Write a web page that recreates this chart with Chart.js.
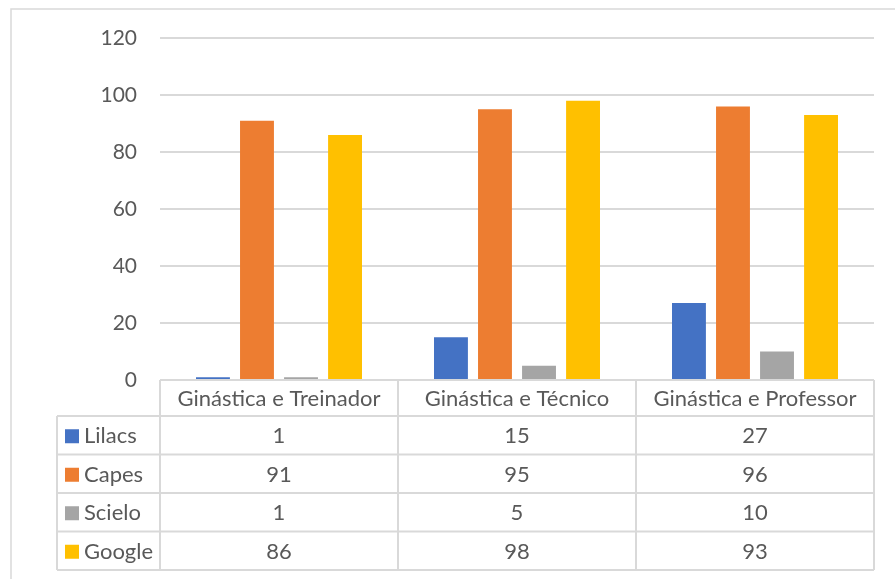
<!DOCTYPE html>
<html>
<head>
<meta charset="utf-8">
<script src="https://cdn.jsdelivr.net/npm/chart.js@4"></script>
<style>
html,body{margin:0;padding:0;background:#fff;}
#wrap{position:relative;width:895px;height:579px;}
</style>
</head>
<body>
<div id="wrap"><canvas id="c" width="895" height="579"></canvas></div>
<script>
const categories = ["Ginástica e Treinador", "Ginástica e Técnico", "Ginástica e Professor"];
const seriesNames = ["Lilacs", "Capes", "Scielo", "Google"];
const lilacs = [1, 15, 27];
const capes = [91, 95, 96];
const scielo = [1, 5, 10];
const google = [86, 98, 93];
const yTicks = [0, 20, 40, 60, 80, 100, 120];
const colors = ["#4472C4", "#ED7D31", "#A5A5A5", "#FFC000"];
const seriesValues = [lilacs, capes, scielo, google];

const FONT = "Lato";
const TXT = "#595959";
const LINE = "#d9d9d9";

const tablePlugin = {
  id: 'dataTable',
  afterDraw(chart) {
    const ctx = chart.ctx;
    const xs = chart.scales.x;
    const area = chart.chartArea;
    const n = categories.length;
    const half = (xs.getPixelForValue(1) - xs.getPixelForValue(0)) / 2;
    const colEdges = [];
    for (let i = 0; i < n; i++) colEdges.push(xs.getPixelForValue(i) - half);
    colEdges.push(xs.getPixelForValue(n - 1) + half);
    const top = area.bottom;
    const headerH = 36;
    const rowH = 38.5;
    const legendLeft = 57;
    const rowsTop = top + headerH;
    const bottom = rowsTop + rowH * seriesNames.length;

    ctx.save();
    ctx.strokeStyle = LINE;
    ctx.lineWidth = 1.5;
    ctx.beginPath();
    ctx.moveTo(11, 579); ctx.lineTo(11, 9); ctx.lineTo(895, 9);
    ctx.stroke();

    ctx.lineWidth = 2;
    ctx.beginPath();
    ctx.moveTo(colEdges[0], top); ctx.lineTo(colEdges[n], top);
    for (let r = 0; r <= seriesNames.length; r++) {
      const y = rowsTop + r * rowH;
      ctx.moveTo(legendLeft, y); ctx.lineTo(colEdges[n], y);
    }
    for (let i = 0; i <= n; i++) {
      ctx.moveTo(colEdges[i], top); ctx.lineTo(colEdges[i], bottom);
    }
    ctx.moveTo(legendLeft, rowsTop); ctx.lineTo(legendLeft, bottom);
    ctx.stroke();

    ctx.fillStyle = TXT;
    ctx.font = "22px " + FONT;
    ctx.textAlign = "center";
    ctx.textBaseline = "middle";
    for (let i = 0; i < n; i++) {
      ctx.fillText(categories[i], xs.getPixelForValue(i), top + headerH / 2 + 1);
    }
    for (let r = 0; r < seriesNames.length; r++) {
      const yMid = rowsTop + r * rowH + rowH / 2 + 1;
      ctx.fillStyle = colors[r];
      ctx.fillRect(65, yMid - 7, 14, 14);
      ctx.fillStyle = TXT;
      ctx.textAlign = "left";
      ctx.fillText(seriesNames[r], 84, yMid);
      ctx.textAlign = "center";
      for (let i = 0; i < n; i++) {
        ctx.fillText(String(seriesValues[r][i]), xs.getPixelForValue(i), yMid);
      }
    }
    ctx.restore();
  }
};

new Chart(document.getElementById('c'), {
  type: 'bar',
  data: {
    labels: categories,
    datasets: seriesNames.map((name, k) => ({
      label: name,
      data: seriesValues[k],
      backgroundColor: colors[k],
      borderWidth: 0,
      categoryPercentage: 0.74,
      barPercentage: 0.77
    }))
  },
  options: {
    responsive: false,
    animation: false,
    layout: { padding: { left: 40, right: 21, top: 38, bottom: 199 } },
    plugins: { legend: { display: false }, tooltip: { enabled: false } },
    scales: {
      x: { display: false },
      y: {
        min: 0, max: 120,
        afterBuildTicks(scale) { scale.ticks = yTicks.map(v => ({ value: v })); },
        afterFit(scale) { scale.width = 120; },
        border: { display: false },
        grid: { color: LINE, lineWidth: 2, drawTicks: false },
        ticks: { color: TXT, font: { family: FONT, size: 21 }, padding: 23 }
      }
    }
  },
  plugins: [tablePlugin]
});
</script>
</body>
</html>
